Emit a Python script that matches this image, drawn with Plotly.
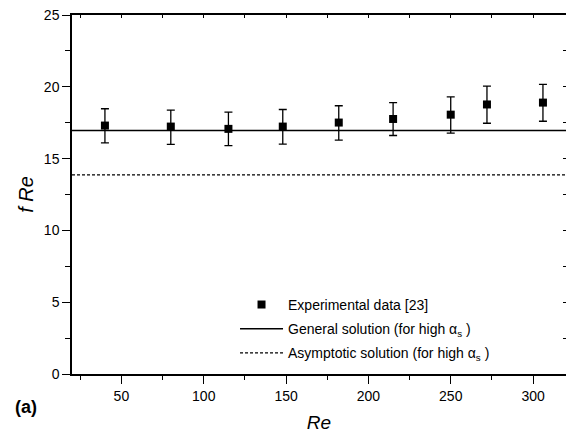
import plotly.graph_objects as go

# Data
re_values = [40, 80, 115, 148, 182, 215, 250, 272, 306]
fre_values = [17.30, 17.23, 17.07, 17.23, 17.51, 17.76, 18.06, 18.77, 18.90]
err_plus = [1.17, 1.15, 1.17, 1.19, 1.17, 1.14, 1.24, 1.28, 1.27]
err_minus = [1.20, 1.24, 1.17, 1.22, 1.22, 1.15, 1.29, 1.31, 1.30]

general_solution = 16.96
asymptotic_solution = 13.86
x_range = [20, 320]
y_range = [0, 25]

FONT = "Liberation Sans, Arial, Helvetica, sans-serif"

fig = go.Figure()

fig.add_trace(go.Scatter(
    x=re_values, y=fre_values, mode="markers",
    name="Experimental data [23]",
    marker=dict(symbol="square", size=8, color="black"),
    error_y=dict(type="data", symmetric=False, array=err_plus, arrayminus=err_minus,
                 color="black", thickness=1.3, width=4),
    legendgroup="a",
))
fig.add_trace(go.Scatter(
    x=x_range, y=[general_solution, general_solution], mode="lines",
    name="General solution (for high α<sub>s</sub> )",
    line=dict(color="black", width=1.4),
    legendgroup="b",
))
fig.add_trace(go.Scatter(
    x=x_range, y=[asymptotic_solution, asymptotic_solution], mode="lines",
    name="Asymptotic solution (for high α<sub>s</sub> )",
    line=dict(color="black", width=1.2, dash="3px,2px"),
    legendgroup="c",
))
# invisible trace for the mirrored (top/right) axes
fig.add_trace(go.Scatter(x=x_range, y=y_range, mode="markers", xaxis="x2", yaxis="y2",
                         marker=dict(opacity=0), showlegend=False, hoverinfo="skip"))

fig.update_layout(
    template="none",
    width=566, height=425,
    margin=dict(l=64, r=8, t=7, b=58.5, autoexpand=False),
    paper_bgcolor="white", plot_bgcolor="white",
    font=dict(family=FONT, size=14, color="black"),
    showlegend=True,
    legend=dict(x=0.33, y=0.237, xanchor="left", yanchor="top",
                bgcolor="rgba(0,0,0,0)", font=dict(size=14, family=FONT),
                tracegroupgap=3, itemwidth=43),
    xaxis=dict(range=x_range, tickvals=[50, 100, 150, 200, 250, 300],
               ticks="outside", ticklen=8, tickwidth=1.2, tickcolor="black",
               showline=True, linecolor="black", linewidth=1.5, mirror=True,
               showgrid=False, zeroline=False, automargin=False,
               minor=dict(tickvals=[25, 75, 125, 175, 225, 275], ticks="outside",
                          ticklen=4, tickwidth=1.2, tickcolor="black"),
               title=dict(text="<i>Re</i>", font=dict(size=19), standoff=14),
               tickfont=dict(size=14)),
    yaxis=dict(range=y_range, tickvals=[0, 5, 10, 15, 20, 25],
               ticks="outside", ticklen=8, tickwidth=1.2, tickcolor="black",
               showline=True, linecolor="black", linewidth=1.5, mirror=True,
               showgrid=False, zeroline=False, automargin=False,
               ticklabeloverflow="allow",
               minor=dict(tickvals=[2.5, 7.5, 12.5, 17.5, 22.5], ticks="outside",
                          ticklen=5, tickwidth=1.2, tickcolor="black"),
               title=dict(text="<i>f Re</i>", font=dict(size=20), standoff=5),
               tickfont=dict(size=14)),
    xaxis2=dict(range=x_range, overlaying="x", side="top", anchor="y2",
                dtick=25, tick0=0, ticks="inside", ticklen=3, tickwidth=1.2,
                tickcolor="black", showticklabels=False, automargin=False,
                showline=True, linecolor="black", linewidth=1.5,
                showgrid=False, zeroline=False),
    yaxis2=dict(range=y_range, overlaying="y", side="right", anchor="x2",
                dtick=2.5, tick0=0, ticks="inside", ticklen=3, tickwidth=1.2,
                tickcolor="black", showticklabels=False, automargin=False,
                showline=True, linecolor="black", linewidth=1.5,
                showgrid=False, zeroline=False),
)

fig.add_annotation(text="<b>(a)</b>", xref="paper", yref="paper",
                   x=-0.119, y=-0.092, xanchor="left", yanchor="middle",
                   showarrow=False, font=dict(size=18, family=FONT))

fig.write_html("out.html")
